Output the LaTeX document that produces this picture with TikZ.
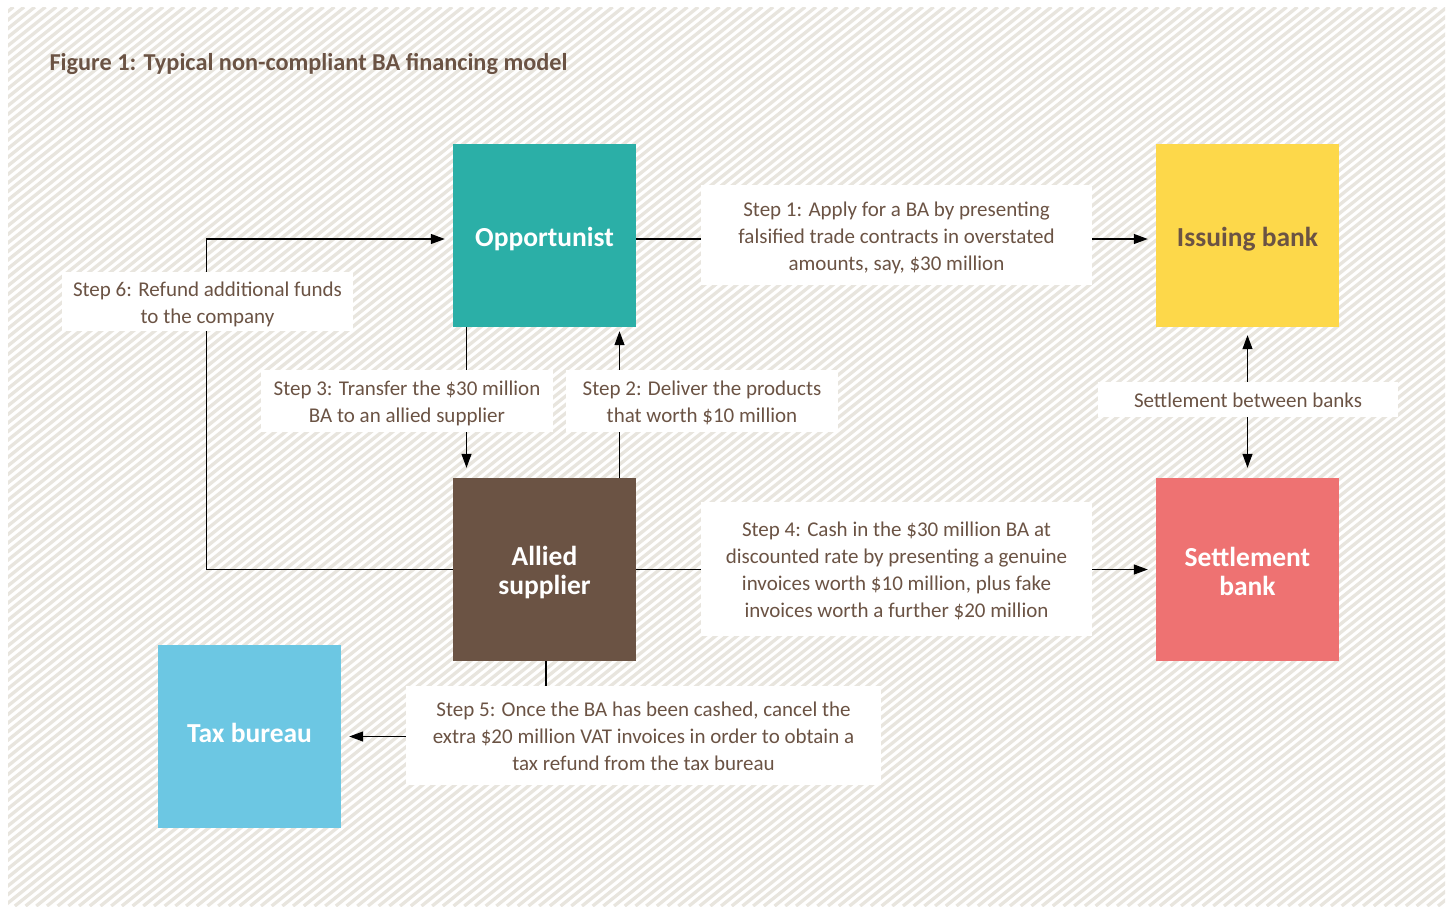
\documentclass[tikz,border=0pt]{standalone}
\usepackage{fontspec}
\setmainfont{Carlito}
\usetikzlibrary{arrows.meta}
\definecolor{hatch}{HTML}{E8E5DE}
\definecolor{txtbrown}{HTML}{6B5344}
\definecolor{oppc}{HTML}{2BAFA7}
\definecolor{issuec}{HTML}{FDD84A}
\definecolor{allyc}{HTML}{6B5344}
\definecolor{settlec}{HTML}{EE7272}
\definecolor{taxc}{HTML}{6CC7E3}
\newcommand\lowered[2]{\raisebox{-#1}[\height][\depth]{\begin{tabular}{@{}c@{}}#2\end{tabular}}}
\tikzset{
  party/.style={minimum width=183pt,minimum height=183pt,inner sep=0pt,
    font=\fontsize{27.5}{29}\selectfont\bfseries,text=white},
  lab/.style={fill=white,inner sep=0pt,text=txtbrown,
    font=\fontsize{21}{27}\selectfont},
  arr/.style={line width=1.2pt,-{Triangle[length=14pt,width=10pt]},shorten >=8pt},
}
\begin{document}
\begin{tikzpicture}[x=1pt,y=-1pt]
\useasboundingbox (0,0) rectangle (1451,908);
\fill[white] (0,0) rectangle (1451,908);
\begin{scope}
\clip (8,7) rectangle (1445,906);
\foreach \i in {0,...,245}{
  \draw[hatch,line width=3.3pt] ({-1130+\i*10.7},906) -- ({-1130+\i*10.7+1122},7);
}
\end{scope}
\node[anchor=base west,text=txtbrown,font=\fontsize{24.3}{28}\selectfont\bfseries] (title) at (46,70) {Figure 1: Typical non-compliant BA financing model};
% parties
\node[party,fill=oppc] (opp) at (544.5,235.5) {\lowered{5pt}{Opportunist}};
\node[party,fill=issuec,text=txtbrown] (issue) at (1247.5,235.5) {\lowered{5pt}{Issuing bank}};
\node[party,fill=allyc] (ally) at (544.5,569.5) {\lowered{5pt}{Allied\\supplier}};
\node[party,fill=settlec] (settle) at (1247.5,569.5) {\lowered{5.5pt}{Settlement\\bank}};
\node[party,fill=taxc] (tax) at (249.5,736.5) {\lowered{0.5pt}{Tax bureau}};
% connectors
\draw[arr] ([yshift=-3.5pt]opp.east) -- ([yshift=-3.5pt]issue.west);
\draw[arr] (ally.east) -- (settle.west);
\draw[arr] (ally.west) -- ++(-246,0) |- ([yshift=-3.5pt]opp.west);
\draw[arr,shorten >=10pt] ([xshift=-78pt]opp.south) -- ([xshift=-78pt]ally.north);
\draw[arr,shorten >=4pt] ([xshift=75pt]ally.north) -- ([xshift=75pt]opp.south);
\draw[arr] ([xshift=1.5pt]ally.south) |- (tax.east);
\draw[line width=1.2pt,{Triangle[length=14pt,width=10pt]}-{Triangle[length=14pt,width=10pt]},shorten >=10pt,shorten <=8pt] (issue.south) -- (settle.north);
% labels
\node[lab,minimum width=391pt,minimum height=100pt] (l1) at (896.5,235) {\lowered{3pt}{Step 1: Apply for a BA by presenting\\falsified trade contracts in overstated\\amounts, say, \$30 million}};
\node[lab,minimum width=291pt,minimum height=59pt] (l6) at (207.5,301.5) {\lowered{3pt}{Step 6: Refund additional funds\\to the company}};
\node[lab,minimum width=292pt,minimum height=62pt] (l3) at (407,401) {\lowered{3pt}{Step 3: Transfer the \$30 million\\BA to an allied supplier}};
\node[lab,minimum width=272pt,minimum height=62pt] (l2) at (702,401) {\lowered{3pt}{Step 2: Deliver the products\\that worth \$10 million}};
\node[lab,minimum width=300pt,minimum height=35pt] (lb) at (1248,399.5) {\lowered{3pt}{Settlement between banks}};
\node[lab,minimum width=391pt,minimum height=134pt] (l4) at (896.5,569) {\lowered{3pt}{Step 4: Cash in the \$30 million BA at\\discounted rate by presenting a genuine\\invoices worth \$10 million, plus fake\\invoices worth a further \$20 million}};
\node[lab,minimum width=475pt,minimum height=99pt] (l5) at (643.5,735.5) {\lowered{3pt}{Step 5: Once the BA has been cashed, cancel the\\extra \$20 million VAT invoices in order to obtain a\\tax refund from the tax bureau}};
\end{tikzpicture}
\end{document}
